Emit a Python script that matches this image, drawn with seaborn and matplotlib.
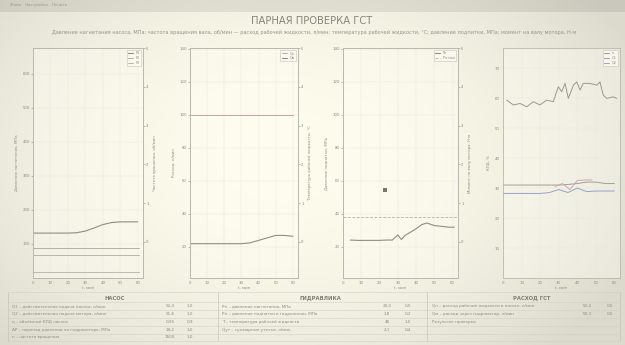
import numpy as np
import pandas as pd
import matplotlib
matplotlib.use("Agg")
import matplotlib.pyplot as plt
import seaborn as sns

sns.set_theme(style="white")
plt.rcParams["font.family"] = ["DejaVu Sans"]

# ---------------- data ----------------
title = "ПАРНАЯ ПРОВЕРКА ГСТ"
subtitle = ("Давление нагнетания насоса, МПа; частота вращения вала, об/мин — расход рабочей жидкости, л/мин; "
            "температура рабочей жидкости, °С; давление подпитки, МПа; момент на валу мотора, Н·м")
menu = "Файл   Настройки   Печать"

t13 = [0, 5, 10, 15, 20, 25, 30, 35, 40, 45, 50, 55, 60]
p1_main = [132, 132, 132, 132, 132, 133, 138, 147, 157, 163, 165, 165, 165]
p1_limits = [88, 68, 18]
p1_labels = ["P1", "P2", "P3"]

p2_top = [100, 100, 100, 100, 100, 100, 100, 100, 100, 100, 100, 100, 100]
p2_low = [22, 22, 22, 22, 22, 22, 22, 22.5, 24, 25.5, 27, 27, 26.5]

p3_t = [4, 8, 12, 16, 20, 24, 27, 30, 32, 34, 37, 40, 43, 46, 50, 54, 58, 61]
p3_val = [24.2, 24, 24, 24, 24, 24.2, 24.2, 27.3, 24.5, 27, 29, 31, 33.5, 34.5, 33, 32.5, 32, 32]
p3_ref = 38
p3_point_t = [23]
p3_point_v = [54.5]

p4_t = [2.0, 5.6, 9.2, 12.8, 16.3, 19.9, 23.5, 27.1, 29.8, 31.6, 33.4, 35.2,
        37.9, 39.7, 41.5, 43.2, 46.8, 50.5, 52.2, 54.0, 55.8, 59.4, 61.2]
p4_noisy = [59.3, 57.7, 58.2, 57.1, 58.8, 57.7, 59.3, 58.8, 63.8, 62.1, 64.9, 59.9,
            64.3, 65.4, 62.7, 64.9, 64.9, 64.3, 65.4, 61.0, 59.9, 60.4, 59.9]
p4_gray = [31, 31, 31, 31, 31, 31, 31, 31.2, 31.5, 32, 32, 31.5, 31.5]
p4_blue = [28.2, 28.2, 28.2, 28.2, 28.2, 28.5, 29.5, 28.5, 30, 28.8, 29, 29, 29]
p4_pink_t = [28, 32, 36, 40, 44, 48]
p4_pink = [30.5, 31.5, 29.5, 32.5, 32.7, 32.7]

xticks = [0, 10, 20, 30, 40, 50, 60]
xticklabels = ["0", "10", "20", "30", "40", "50", "60"]

table_left_head = "НАСОС"
table_left_rows = ["Q1 – действительная подача насоса, л/мин",
                   "Q2 – действительная подача мотора, л/мин",
                   "η – объёмный КПД насоса",
                   "ΔP – перепад давления на гидромоторе, МПа",
                   "n – частота вращения"]
table_left_v1 = ["52,4", "51,8", "0,96", "18,2", "1500"]
table_left_v2 = ["1,0", "1,0", "0,9", "1,0", "1,0"]
table_mid_head = "ГИДРАВЛИКА"
table_mid_rows = ["Рн – давление нагнетания, МПа",
                  "Рп – давление подпитки в гидролинии, МПа",
                  "T – температура рабочей жидкости",
                  "Qут – суммарные утечки, л/мин"]
table_mid_v1 = ["20,0", "1,8", "48", "2,1"]
table_mid_v2 = ["0,5", "0,2", "1,0", "0,4"]
table_right_head = "РАСХОД ГСТ"
table_right_rows = ["Qн – расход рабочей жидкости в насосе, л/мин",
                    "Qм – расход через гидромотор, л/мин",
                    "Результат проверки"]
table_right_v1 = ["52,4", "50,3", ""]
table_right_v2 = ["0,5", "0,5", ""]

# ---------------- styling ----------------
W, H = 625, 345
fig = plt.figure(figsize=(W / 100, H / 100), dpi=100)

# background (vignette)
bg = fig.add_axes([0, 0, 1, 1], zorder=-10)
yy, xx = np.mgrid[0:H, 0:W]
cx, cy = 0.45 * W, 0.45 * H
d = np.sqrt(((xx - cx) / (0.62 * W)) ** 2 + ((yy - cy) / (0.78 * H)) ** 2)
d = np.clip(d, 0, 1)
center = np.array([254, 252, 236]) / 255.0
edge = np.array([220, 218, 205]) / 255.0
w = d[..., None] ** 2.0
img = center[None, None, :] * (1 - w) + edge[None, None, :] * w
img[0:12, :, :] = img[0:12, :, :] * 0.92
bg.imshow(img, aspect="auto", extent=[0, W, H, 0])
bg.set_xlim(0, W)
bg.set_ylim(H, 0)
bg.axis("off")

TXT = "#8e8d84"
SP = "#b9b8ae"


def px_axes(l, r, t, b):
    return fig.add_axes([l / W, 1 - b / H, (r - l) / W, (b - t) / H])


def style(ax):
    ax.set_facecolor((1, 1, 0.97, 0.35))
    for s in ax.spines.values():
        s.set_color(SP)
        s.set_linewidth(0.6)
    ax.tick_params(axis="both", labelsize=2.8, colors=TXT, length=1.2, width=0.4, pad=1)
    ax.grid(True, color="#ebe9dc", linewidth=0.35)


def add_twin(ax, ylim, ticks, label):
    tw = ax.twinx()
    tw.set_ylim(*ylim)
    tw.set_yticks(ticks)
    tw.set_facecolor("none")
    for s in tw.spines.values():
        s.set_color(SP)
        s.set_linewidth(0.6)
    tw.tick_params(axis="y", labelsize=2.8, colors=TXT, length=1.2, width=0.4, pad=1)
    tw.set_ylabel(label, fontsize=2.8, color=TXT, labelpad=3)
    tw.grid(False)
    return tw


def set_x(ax):
    ax.set_xlim(0, 63)
    ax.set_xticks(xticks)
    ax.set_xticklabels(xticklabels)
    ax.set_xlabel("t, мин", fontsize=2.8, color=TXT, labelpad=1)


def small_legend(ax):
    leg = ax.legend(loc="upper right", fontsize=2.4, frameon=True, handlelength=1.6,
                    borderpad=0.4, labelspacing=0.25, fancybox=False)
    leg.get_frame().set_linewidth(0.4)
    leg.get_frame().set_edgecolor(SP)
    leg.get_frame().set_facecolor("#fbfaf0")
    for txt in leg.get_texts():
        txt.set_color(TXT)


# ---------------- panel 1 ----------------
ax1 = px_axes(33, 143, 48, 278)
style(ax1)
df1 = pd.DataFrame({"t": t13, "v": p1_main})
sns.lineplot(data=df1, x="t", y="v", ax=ax1, color="#8f8e86", linewidth=0.8, label=p1_labels[0])
for lim, lab, col in zip(p1_limits, p1_labels[1:] + [None], ["#a7a69d", "#adaca3", "#b3b2a9"]):
    ax1.axhline(lim, color=col, linewidth=0.6, label=lab, xmin=0.0, xmax=0.96)
ax1.set_ylim(0, 676)
ax1.set_yticks([100, 200, 300, 400, 500, 600])
ax1.set_ylabel("Давление нагнетания, МПа", fontsize=2.8, color=TXT, labelpad=3)
set_x(ax1)
small_legend(ax1)
add_twin(ax1, (-0.93, 5.0), [0, 1, 2, 3, 4, 5], "Частота вращения, об/мин")

# ---------------- panel 2 ----------------
ax2 = px_axes(190, 298, 48, 278)
style(ax2)
df2 = pd.DataFrame({"t": t13, "top": p2_top, "low": p2_low})
sns.lineplot(data=df2, x="t", y="top", ax=ax2, color="#c9a1ab", linewidth=0.7, label="Qн")
sns.lineplot(data=df2, x="t", y="low", ax=ax2, color="#8f8e86", linewidth=0.8, label="Qм")
ax2.set_ylim(1.2, 140.6)
ax2.set_yticks([20, 40, 60, 80, 100, 120, 140])
ax2.set_ylabel("Расход, л/мин", fontsize=2.8, color=TXT, labelpad=3)
set_x(ax2)
small_legend(ax2)
add_twin(ax2, (-0.93, 5.0), [0, 1, 2, 3, 4, 5], "Температура рабочей жидкости, °С")

# ---------------- panel 3 ----------------
ax3 = px_axes(343, 458, 48, 278)
style(ax3)
df3 = pd.DataFrame({"t": p3_t, "v": p3_val})
sns.lineplot(data=df3, x="t", y="v", ax=ax3, color="#8f8e86", linewidth=0.8, label="Pп")
ax3.axhline(p3_ref, color="#b5b4ab", linewidth=0.6, linestyle="--", label="Pп ном")
df3p = pd.DataFrame({"t": p3_point_t, "v": p3_point_v})
sns.scatterplot(data=df3p, x="t", y="v", ax=ax3, color="#77766f", s=6, marker="s", linewidth=0)
ax3.set_ylim(1.2, 140.6)
ax3.set_yticks([20, 40, 60, 80, 100, 120, 140])
ax3.set_ylabel("Давление подпитки, МПа", fontsize=2.8, color=TXT, labelpad=3)
set_x(ax3)
small_legend(ax3)
add_twin(ax3, (-0.93, 5.0), [0, 1, 2, 3, 4, 5], "Момент на валу мотора, Н·м")

# ---------------- panel 4 ----------------
ax4 = px_axes(503, 620, 48, 278)
style(ax4)
df4a = pd.DataFrame({"t": p4_t, "v": p4_noisy})
sns.lineplot(data=df4a, x="t", y="v", ax=ax4, color="#9a9990", linewidth=0.7, label="n")
df4b = pd.DataFrame({"t": t13, "g": p4_gray, "b": p4_blue})
sns.lineplot(data=df4b, x="t", y="g", ax=ax4, color="#a09f98", linewidth=0.7, label="Q1")
sns.lineplot(data=df4b, x="t", y="b", ax=ax4, color="#97a3c6", linewidth=0.7, label="Q2")
df4c = pd.DataFrame({"t": p4_pink_t, "v": p4_pink})
sns.lineplot(data=df4c, x="t", y="v", ax=ax4, color="#d0a6b6", linewidth=0.7)
ax4.set_ylim(0, 76.7)
ax4.set_yticks([10, 20, 30, 40, 50, 60, 70])
ax4.set_ylabel("КПД, %", fontsize=2.8, color=TXT, labelpad=3)
set_x(ax4)
small_legend(ax4)

# ---------------- header texts ----------------
fig.text(10 / W, 1 - 5 / H, menu, fontsize=3, color="#9a998f", va="center")
fig.text(312 / W, 1 - 21 / H, title, fontsize=7.2, color="#86857c", ha="center", va="center")
fig.text(314 / W, 1 - 32 / H, subtitle, fontsize=3.6, color="#96958b", ha="center", va="center")

# ---------------- table ----------------
tb = fig.add_axes([0, 0, 1, 1], zorder=5)
tb.set_xlim(0, W)
tb.set_ylim(H, 0)
tb.axis("off")
tb.set_facecolor("none")
row_y = [306, 314, 322, 330, 337]
head_y = 298
for yl in [292, 302, 310, 318, 326, 334, 341]:
    tb.plot([8, 620], [yl, yl], color="#d2d1c6", linewidth=0.4)
for xv in [8, 218, 427, 620]:
    tb.plot([xv, xv], [292, 341], color="#c6c5ba", linewidth=0.5)
tb.text(115, head_y, table_left_head, fontsize=3.8, color="#7f7e76", ha="center", va="center", fontweight="bold")
tb.text(320, head_y, table_mid_head, fontsize=3.8, color="#7f7e76", ha="center", va="center", fontweight="bold")
tb.text(532, head_y, table_right_head, fontsize=3.8, color="#7f7e76", ha="center", va="center", fontweight="bold")
for i, lab in enumerate(table_left_rows):
    tb.text(12, row_y[i], lab, fontsize=3.0, color=TXT, va="center")
    tb.text(170, row_y[i], table_left_v1[i], fontsize=3.0, color=TXT, va="center", ha="center")
    tb.text(190, row_y[i], table_left_v2[i], fontsize=3.0, color=TXT, va="center", ha="center")
for i, lab in enumerate(table_mid_rows):
    tb.text(222, row_y[i], lab, fontsize=3.0, color=TXT, va="center")
    tb.text(387, row_y[i], table_mid_v1[i], fontsize=3.0, color=TXT, va="center", ha="center")
    tb.text(408, row_y[i], table_mid_v2[i], fontsize=3.0, color=TXT, va="center", ha="center")
for i, lab in enumerate(table_right_rows):
    tb.text(432, row_y[i], lab, fontsize=3.0, color=TXT, va="center")
    tb.text(587, row_y[i], table_right_v1[i], fontsize=3.0, color=TXT, va="center", ha="center")
    tb.text(610, row_y[i], table_right_v2[i], fontsize=3.0, color=TXT, va="center", ha="center")

fig.savefig("out.png", dpi=100)
